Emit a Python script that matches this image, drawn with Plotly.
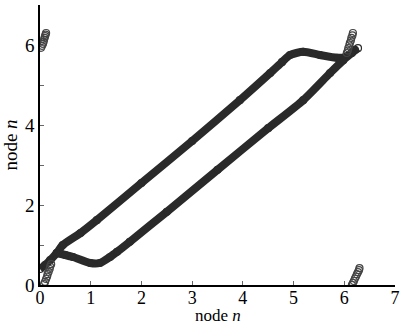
import plotly.graph_objects as go

# main loop: upper branch
upper_x = [0.0, 0.1, 0.2, 0.33, 0.45, 0.8, 1.12, 2.0, 3.0, 3.94, 4.54, 4.77, 4.93, 5.19, 5.52, 5.86, 6.02, 6.21]
upper_y = [0.4, 0.5, 0.62, 0.8, 1.0, 1.3, 1.62, 2.55, 3.6, 4.62, 5.3, 5.57, 5.75, 5.83, 5.75, 5.68, 5.7, 5.88]
# lower branch
lower_x = [0.33, 0.5, 0.65, 0.99, 1.18, 1.38, 1.52, 1.77, 2.5, 3.5, 4.5, 5.19, 5.72, 5.98, 6.15, 6.27]
lower_y = [0.8, 0.75, 0.7, 0.55, 0.55, 0.7, 0.83, 1.08, 1.83, 2.88, 3.92, 4.62, 5.3, 5.62, 5.8, 5.92]

# wrap-around clusters
tl_x = [0.02, 0.04, 0.06, 0.07, 0.08, 0.09, 0.1, 0.11, 0.12]
tl_y = [5.93, 5.98, 6.03, 6.08, 6.13, 6.18, 6.22, 6.26, 6.3]
bl_x = [0.08, 0.1, 0.12, 0.14, 0.15, 0.17, 0.19, 0.2, 0.22]
bl_y = [0.02, 0.08, 0.15, 0.21, 0.27, 0.33, 0.4, 0.46, 0.52]
tr_x = [6.05, 6.07, 6.08, 6.1, 6.11, 6.13, 6.14, 6.16, 6.17]
tr_y = [5.8, 5.86, 5.92, 5.99, 6.05, 6.11, 6.18, 6.24, 6.3]
br_x = [6.15, 6.17, 6.19, 6.21, 6.23, 6.25, 6.27, 6.29, 6.3]
br_y = [0.0, 0.05, 0.1, 0.16, 0.21, 0.27, 0.32, 0.37, 0.42]

x_ticks = [0, 1, 2, 3, 4, 5, 6, 7]
y_ticks = [0, 1, 2, 3, 4, 5, 6, 7]
y_ticktext = ['0', '', '2', '', '4', '', '6', '']

dark = '#2a2a2a'
fig = go.Figure()
for xs, ys in [(upper_x, upper_y), (lower_x, lower_y)]:
    fig.add_trace(go.Scatter(x=xs, y=ys, mode='lines+markers',
                             line=dict(color=dark, width=8, shape='spline', smoothing=0.6),
                             marker=dict(symbol='circle-open', size=7, color=dark, line=dict(width=1.2)),
                             hoverinfo='skip', showlegend=False))
for xs, ys in [(tl_x, tl_y), (bl_x, bl_y), (tr_x, tr_y), (br_x, br_y)]:
    fig.add_trace(go.Scatter(x=xs, y=ys, mode='markers',
                             marker=dict(symbol='circle-open', size=7, color='#444444', line=dict(width=1.2)),
                             hoverinfo='skip', showlegend=False))

font = dict(family='Liberation Serif', size=19, color='black')
tfont = dict(family='Liberation Serif', size=18, color='black')
afont = dict(family='Liberation Serif', size=17, color='black')
fig.update_layout(
    width=400, height=327,
    margin=dict(l=40, r=5, t=5, b=42, autoexpand=False),
    paper_bgcolor='white', plot_bgcolor='white',
    font=font,
    xaxis=dict(range=[0, 7], tickvals=x_ticks, ticks='inside', ticklen=4, tickcolor='#666666',
               showline=True, linecolor='black', linewidth=1.5, showgrid=False, zeroline=False,
               automargin=False, ticklabelstandoff=-4,
               tickfont=tfont),
    yaxis=dict(range=[0, 7], tickvals=y_ticks, ticktext=y_ticktext, ticks='inside', ticklen=4,
               tickcolor='#666666', showline=True, linecolor='black', linewidth=1.5,
               showgrid=False, zeroline=False, automargin=False,
               title=dict(text='node <i>n</i>', font=font, standoff=2),
               tickfont=font),
    annotations=[dict(text='node <i>n</i>', xref='paper', yref='paper', x=0.5, y=0,
                      xanchor='center', yanchor='top', yshift=-20, showarrow=False,
                      borderpad=0, font=afont)],
)
fig.write_html('out.html')
